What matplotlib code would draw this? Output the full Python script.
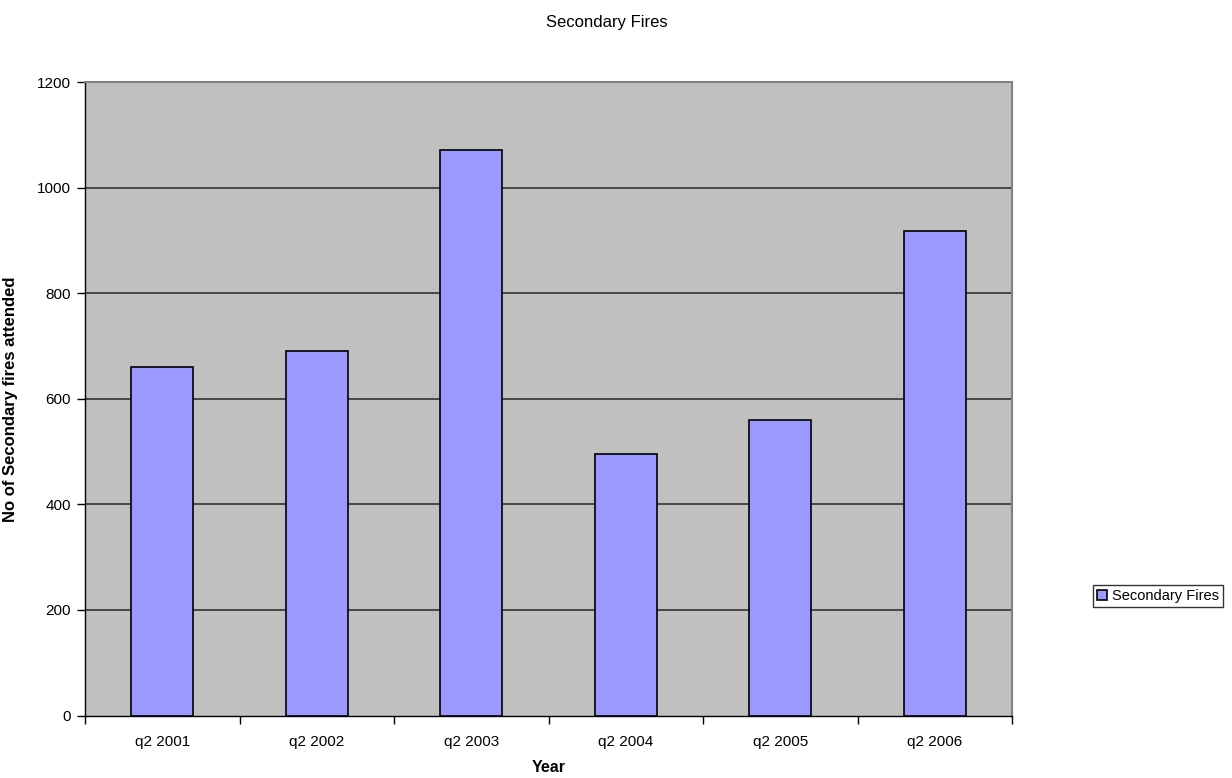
import matplotlib
matplotlib.use("Agg")
import matplotlib.pyplot as plt
from matplotlib.ticker import FixedLocator, NullFormatter

categories = ["q2 2001", "q2 2002", "q2 2003", "q2 2004", "q2 2005", "q2 2006"]
values = [660, 690, 1071, 495, 559, 917]
series_name = "Secondary Fires"
y_ticks = [0, 200, 400, 600, 800, 1000, 1200]

plt.rcParams['font.family'] = ['Liberation Sans', 'DejaVu Sans']

fig = plt.figure(figsize=(12.32, 7.78), dpi=100)
fig.patch.set_facecolor("white")
ax = fig.add_axes([85/1232, 1 - 715.5/778, (1012-85)/1232, (715.5-82)/778])
ax.set_facecolor("#C0C0C0")

x = list(range(len(categories)))
ax.bar(x, values, width=0.4, color="#9999FF", edgecolor="black", linewidth=1.2,
       label=series_name, zorder=3)

ax.set_xlim(-0.5, len(categories) - 0.5)
ax.set_ylim(0, 1200)
ax.set_yticks(y_ticks)
ax.set_yticklabels([str(t) for t in y_ticks], fontsize=11)
for t in y_ticks[1:-1]:
    ax.axhline(t, color="#333333", linewidth=1.2, zorder=1)

# category boundaries as major ticks, labels at centers as minor ticks
ax.xaxis.set_major_locator(FixedLocator([i - 0.5 for i in range(len(categories) + 1)]))
ax.xaxis.set_major_formatter(NullFormatter())
ax.xaxis.set_minor_locator(FixedLocator(x))
ax.set_xticklabels(categories, minor=True, fontsize=11)
ax.tick_params(axis="x", which="minor", length=0, pad=14)
ax.tick_params(axis="x", which="major", length=6, direction="out", width=1)
ax.tick_params(axis="y", length=6, direction="out", width=1, pad=4)

for side in ["top", "right"]:
    ax.spines[side].set_color("#808080")
    ax.spines[side].set_linewidth(1.5)
for side in ["left", "bottom"]:
    ax.spines[side].set_color("black")
    ax.spines[side].set_linewidth(1)

ax.set_xlabel("Year", fontsize=11.5, fontweight="bold")
ax.xaxis.set_label_coords(0.5, -(767 - 715.5) / 633.5)
ax.xaxis.label.set_va("center")
ax.set_ylabel("No of Secondary fires attended", fontsize=12, fontweight="bold")
ax.yaxis.set_label_coords((18 - 85) / 927, 0.5)
fig.text(607/1232, 1 - 22/778, "Secondary Fires", ha="center", va="center", fontsize=12)

leg = fig.legend(loc="center right", bbox_to_anchor=(1223/1232, 1 - 596/778),
                 fontsize=10.5, frameon=True, fancybox=False, edgecolor="black",
                 handlelength=0.7, handleheight=0.7, handletextpad=0.3,
                 borderpad=0.3, borderaxespad=0)
leg.get_frame().set_linewidth(1)

fig.savefig("out.png", dpi=100)
